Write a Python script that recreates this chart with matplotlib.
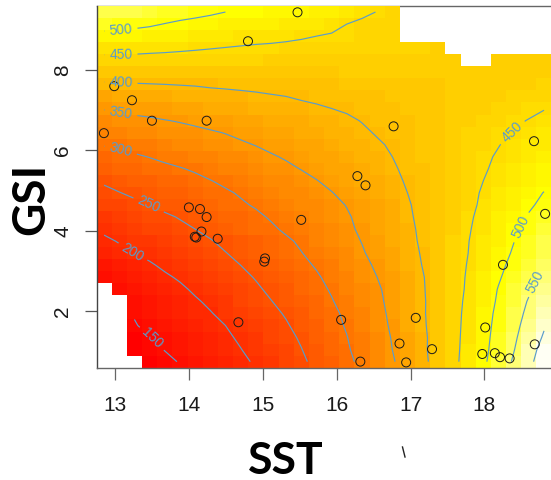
import numpy as np
import matplotlib
matplotlib.use("Agg")
import matplotlib.pyplot as plt
from matplotlib.colors import ListedColormap, hsv_to_rgb
from matplotlib.lines import Line2D

nan = np.nan

# fitted surface, bottom row first, 30 cells per row
fit_rows = [
    [nan,nan,nan,132,142,152,162,172,182,193,204,217,231,244,259,275,291,309,327,346,368,391,415,440,466,493,523,555,590,622],
    [nan,nan,131,141,151,160,170,179,189,199,211,224,236,249,264,280,296,313,332,350,372,393,416,439,464,490,518,548,582,616],
    [nan,nan,139,149,158,167,176,185,194,205,217,229,241,254,269,284,299,316,334,352,373,393,415,438,463,488,515,543,573,605],
    [nan,nan,148,157,165,174,183,191,200,212,224,235,247,260,274,289,303,320,337,355,375,395,416,438,461,486,512,538,566,596],
    [nan,nan,152,161,170,179,189,198,209,220,231,242,253,266,279,292,307,323,340,357,376,396,417,437,460,484,509,534,559,586],
    [nan,nan,156,167,177,186,196,206,217,228,238,249,260,272,285,298,312,327,343,359,378,396,416,436,458,481,505,530,553,576],
    [nan,150,160,171,182,194,205,215,225,236,245,256,267,279,291,303,317,331,345,362,380,397,416,436,455,478,502,524,545,567],
    [155,165,175,185,195,204,214,223,232,242,252,262,272,284,296,309,322,336,350,365,381,398,416,435,454,474,496,517,538,559],
    [165,175,186,196,206,214,223,232,241,250,260,271,281,292,303,316,329,341,355,370,385,401,418,435,452,471,491,510,529,547],
    [182,192,200,208,217,225,233,241,249,258,268,279,289,299,310,323,335,347,360,374,388,403,419,435,450,468,485,504,521,540],
    [194,202,210,218,226,233,241,248,257,267,276,286,295,305,317,329,340,351,364,377,391,405,420,434,449,465,482,499,516,532],
    [206,214,222,229,236,243,250,258,268,277,287,295,305,314,324,334,344,355,367,379,393,406,420,433,447,462,478,493,510,528],
    [218,226,233,239,245,252,261,269,277,286,294,303,311,320,329,338,347,357,369,382,395,408,420,433,445,459,474,488,503,518],
    [230,237,243,250,258,266,274,282,290,296,303,311,319,327,335,343,351,361,372,384,397,409,420,432,443,455,469,482,495,508],
    [241,249,256,263,269,276,283,289,296,303,311,318,326,333,341,349,358,367,378,389,400,411,422,432,442,453,465,477,489,501],
    [255,262,268,274,280,285,292,299,306,313,320,327,334,341,349,357,366,375,384,393,403,412,421,431,441,450,460,470,481,491],
    [271,277,283,288,293,298,304,311,317,324,331,337,344,351,358,366,374,381,389,397,405,413,421,430,438,447,456,465,475,484],
    [286,291,296,301,307,313,318,324,329,335,341,347,353,359,366,373,380,387,393,400,408,415,423,430,437,445,453,462,471,479],
    [302,306,311,316,321,326,331,336,341,346,351,357,363,368,374,380,386,391,397,403,410,416,423,430,436,443,449,457,465,472],
    [319,323,327,331,336,340,343,347,351,356,361,366,371,376,381,386,391,396,402,407,412,417,423,429,434,440,445,451,458,464],
    [335,339,342,345,349,352,356,360,363,367,371,375,379,383,387,391,396,401,405,409,414,418,423,427,432,436,441,446,451,456],
    [352,356,360,363,365,368,371,375,378,382,385,388,391,394,397,400,403,406,409,413,416,419,423,426,430,433,437,440,444,449],
    [374,377,379,381,384,386,388,390,392,394,396,398,400,403,405,407,410,412,414,416,418,420,422,424,427,429,431,434,437,441],
    [396,397,398,399,400,401,402,404,405,406,407,409,411,412,413,414,416,418,419,420,421,422,423,424,425,426,427,429,431,434],
    [417,418,419,419,420,420,420,421,421,421,422,422,422,423,423,423,424,424,424,424,424,424,424,424,424,425,425,426,427,428],
    [439,439,439,438,438,437,436,435,435,434,434,433,433,432,432,431,431,430,430,429,429,428,428,427,nan,nan,426,425,425,425],
    [463,462,461,459,457,455,453,451,449,447,445,444,443,442,441,440,439,438,437,436,435,434,433,nan,nan,nan,nan,nan,nan,nan],
    [489,487,485,482,479,475,472,469,465,463,461,459,456,453,450,447,445,443,441,439,nan,nan,nan,nan,nan,nan,nan,nan,nan,nan],
    [515,512,509,505,499,494,490,487,482,478,476,473,471,468,465,459,450,443,441,439,nan,nan,nan,nan,nan,nan,nan,nan,nan,nan],
    [541,538,534,528,521,514,510,505,500,497,494,491,487,483,479,474,466,458,449,443,nan,nan,nan,nan,nan,nan,nan,nan,nan,nan],
]

# observations
sst = [12.99, 13.23, 12.85, 13.50, 14.24, 14.80, 15.47, 16.77, 18.67, 16.28, 16.39, 15.52,
       18.82, 14.00, 14.15, 14.24, 14.17, 14.08, 14.10, 14.39, 15.03, 15.02, 14.67, 18.25,
       16.06, 17.07, 18.01, 16.85, 17.29, 17.97, 18.14, 18.21, 18.34, 18.68, 16.32, 16.94]
gsi = [7.60, 7.25, 6.43, 6.74, 6.74, 8.72, 9.44, 6.60, 6.23, 5.36, 5.13, 4.27,
       4.42, 4.58, 4.54, 4.34, 3.98, 3.85, 3.83, 3.80, 3.31, 3.23, 1.72, 3.15,
       1.78, 1.83, 1.59, 1.19, 1.05, 0.93, 0.95, 0.85, 0.82, 1.17, 0.74, 0.72]

levels = [150, 200, 250, 300, 350, 400, 450, 500, 550, 600]
x_ticks = [13, 14, 15, 16, 17, 18]
y_ticks = [2, 4, 6, 8]

# where the contour labels sit
label_spots = [(13.08, 9.02), (13.08, 8.40), (13.08, 7.68), (13.08, 6.93), (13.08, 6.03),
               (13.46, 4.66), (13.24, 3.47), (13.51, 1.33), (18.37, 6.46), (18.49, 4.09),
               (18.70, 2.72)]

x0, x1 = 12.75, 18.908
y0, y1 = 0.588, 9.597
z = np.array(fit_rows, dtype=float)
dx = (x1 - x0) / 30
dy = (y1 - y0) / 30
xc = x0 + dx * (np.arange(30) + 0.5)
yc = y0 + dy * (np.arange(30) + 0.5)

# same ramp as R's heat.colors(50)
hue = np.linspace(0, 1 / 6, 38)
warm = hsv_to_rgb(np.c_[hue, np.ones(38), np.ones(38)])
sat = np.linspace(1 - 1 / 24, 1 / 24, 12)
pale = hsv_to_rgb(np.c_[np.full(12, 1 / 6), sat, np.ones(12)])
heat = ListedColormap(np.vstack([warm, pale]))

plt.rcParams["font.family"] = ["Liberation Sans", "DejaVu Sans"]

fig = plt.figure(figsize=(5.51, 4.80), dpi=100)
ax = fig.add_axes([96.5 / 551, (480 - 367.7) / 480, (551.6 - 96.5) / 551, (367.7 - 6) / 480])

ax.pcolormesh(xc, yc, z, cmap=heat, vmin=130, vmax=620, shading="nearest", zorder=1)

cs = ax.contour(xc, yc, z, levels=levels, colors="#5a9ccb", linewidths=0.85, zorder=2)
ax.clabel(cs, fmt="%d", fontsize=10, manual=label_spots, inline=True, inline_spacing=5)

ax.scatter(sst, gsi, s=42, facecolors="none", edgecolors="#1a1a1a", linewidths=0.7, zorder=3)

ax.set_xlim(x0, x1)
ax.set_ylim(y0, y1)
ax.set_xticks(x_ticks)
ax.set_yticks(y_ticks)
ax.tick_params(axis="x", length=8.6, width=0.9, color="#666666", labelsize=15,
               labelcolor="#1a1a1a", pad=11.5)
ax.tick_params(axis="y", length=8.6, width=0.9, color="#555555", labelsize=15,
               labelcolor="#1a1a1a", pad=9)
for t in ax.get_yticklabels():
    t.set_rotation(90)
    t.set_va("center")

for name in ax.spines:
    ax.spines[name].set_color("#666666")
    ax.spines[name].set_linewidth(1.0)
ax.spines["left"].set_color("#444444")
ax.spines["top"].set_zorder(0.5)

fig.text(286 / 551, 1 - 461 / 480, "SST", family="Lato", weight="bold", fontsize=32,
         ha="center", va="center", color="black")
fig.text(31 / 551, 1 - 199 / 480, "GSI", family="Lato", weight="bold", fontsize=33,
         ha="center", va="center", rotation=90, color="black")

# small stray stroke under the axis in the source picture
fig.add_artist(Line2D([402.5 / 551, 405 / 551], [1 - 447 / 480, 1 - 457 / 480],
                      color="#222222", linewidth=1.0))

fig.savefig("out.png", dpi=100)
